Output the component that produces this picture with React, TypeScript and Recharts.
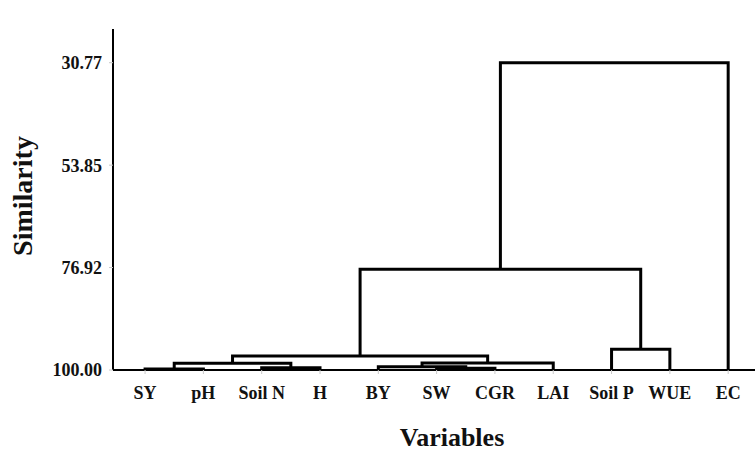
import { Label, Line, LineChart, XAxis, YAxis } from 'recharts'

const leafNames = ['SY', 'pH', 'Soil N', 'H', 'BY', 'SW', 'CGR', 'LAI', 'Soil P', 'WUE', 'EC']

// merge table: node ids 0..10 are leaves, merge k creates node 11 + k
const mergeLeft = [0, 5, 2, 4, 11, 14, 15, 8, 17, 19]
const mergeRight = [1, 6, 3, 12, 13, 7, 16, 9, 18, 10]
const mergeHeight = [99.77, 99.62, 99.48, 99.26, 98.49, 98.45, 96.85, 95.34, 77.31, 30.77]

const yTicks = [30.77, 53.85, 76.92, 100]

const FONT = '"Liberation Serif", "Times New Roman", serif'

type Pt = { x: number; y: number }

function buildSegments(): Pt[][] {
  const pos: number[] = leafNames.map((_, i) => i)
  const height: number[] = leafNames.map(() => 100)
  const segs: Pt[][] = []
  mergeHeight.forEach((h, k) => {
    const l = mergeLeft[k]
    const r = mergeRight[k]
    segs.push([
      { x: pos[l], y: height[l] },
      { x: pos[l], y: h },
      { x: pos[r], y: h },
      { x: pos[r], y: height[r] },
    ])
    pos.push((pos[l] + pos[r]) / 2)
    height.push(h)
  })
  return segs
}

const segments = buildSegments()

export default function App() {
  return (
    <div style={{ position: 'absolute', left: 0, top: 0, width: 755, height: 468, background: '#fff' }}>
      <LineChart width={755} height={468} margin={{ top: 29, right: 0, bottom: 0, left: 0 }}>
        <XAxis
          dataKey="x"
          type="number"
          domain={[-0.55, 10.46]}
          ticks={leafNames.map((_, i) => i)}
          tickFormatter={(v: number) => leafNames[v] ?? ''}
          interval={0}
          height={98}
          axisLine={{ stroke: '#000', strokeWidth: 2 }}
          tickLine={{ stroke: '#c8c8c8' }}
          tickSize={4}
          tickMargin={12}
          tick={{ fill: '#111', fontSize: 18, fontWeight: 'bold', fontFamily: FONT }}
        >
          <Label
            content={() => (
              <text x={452} y={446} textAnchor="middle" fill="#111" fontSize={26} fontWeight="bold" fontFamily={FONT}>
                Variables
              </text>
            )}
          />
        </XAxis>
        <YAxis
          type="number"
          reversed
          domain={[23.18, 100]}
          ticks={yTicks}
          tickFormatter={(v: number) => v.toFixed(2)}
          width={113}
          axisLine={{ stroke: '#000', strokeWidth: 2 }}
          tickLine={{ stroke: '#c8c8c8' }}
          tickSize={4}
          tickMargin={7}
          tick={{ fill: '#111', fontSize: 18, fontWeight: 'bold', fontFamily: FONT }}
        >
          <Label
            content={() => (
              <text
                x={0}
                y={0}
                transform="translate(32, 196) rotate(-90)"
                textAnchor="middle"
                fill="#111"
                fontSize={28}
                fontWeight="bold"
                fontFamily={FONT}
              >
                Similarity
              </text>
            )}
          />
        </YAxis>
        {segments.map((seg, i) => (
          <Line
            key={i}
            data={seg}
            dataKey="y"
            type="linear"
            stroke="#000"
            strokeWidth={3}
            dot={false}
            activeDot={false}
            isAnimationActive={false}
          />
        ))}
      </LineChart>
    </div>
  )
}
